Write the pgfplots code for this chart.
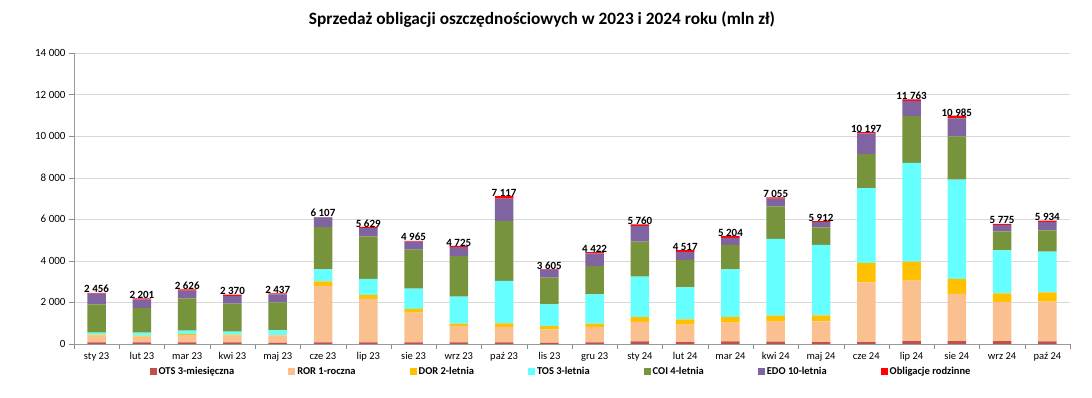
\documentclass[border=0pt]{standalone}
\usepackage{pgfplots}
\pgfplotsset{compat=1.18}
\usepackage{pgfplotstable}
\usepackage{fontspec}
\setmainfont{Carlito}
\definecolor{cOTS}{HTML}{C0504D}
\definecolor{cROR}{HTML}{FAC090}
\definecolor{cDOR}{HTML}{FFC000}
\definecolor{cTOS}{HTML}{66FFFF}
\definecolor{cCOI}{HTML}{77933C}
\definecolor{cEDO}{HTML}{8064A2}
\definecolor{cROD}{HTML}{FF0000}
\pgfplotstableread[col sep=comma]{
x,ots,ror,dor,tos,coi,edo,rod,lbl
0,80,320,50,100,1362,514,30,2 456
1,80,270,50,145,1189,417,50,2 201
2,80,353,50,160,1554,369,60,2 626
3,80,320,50,145,1346,369,60,2 370
4,60,353,30,209,1352,385,48,2 437
5,80,2712,225,578,2043,449,20,6 107
6,80,2087,193,770,2048,401,50,5 629
7,80,1428,177,979,1876,385,40,4 965
8,80,786,112,1300,1950,433,64,4 725
9,80,738,177,2038,2881,1075,128,7 117
10,60,642,160,1043,1285,385,30,3 605
11,80,738,160,1412,1358,610,64,4 422
12,128,931,241,1942,1684,754,80,5 760
13,96,835,257,1541,1323,385,80,4 517
14,128,899,273,2295,1176,337,96,5 204
15,112,963,289,3692,1566,369,64,7 055
16,96,995,289,3387,840,257,48,5 912
17,96,2873,931,3595,1643,995,64,10 197
18,144,2905,915,4751,2246,738,64,11 763
19,144,2263,722,4783,2078,867,128,10 985
20,144,1878,417,2070,913,305,48,5 775
21,128,1910,449,1958,1024,401,64,5 934
}\data
\begin{document}
\begin{tikzpicture}
\useasboundingbox (-74bp,-54bp) rectangle (1018bp,344bp);
\begin{axis}[
  at={(0,0)}, anchor=south west,
  scale only axis, width=996bp, height=291bp,
  ybar stacked, bar width=18.5bp,
  xmin=-0.5, xmax=21.5, ymin=0, ymax=14000,
  ytick={0,2000,...,14000},
  scaled y ticks=false,
  xtick={0,...,21},
  xticklabels={sty 23,lut 23,mar 23,kwi 23,maj 23,cze 23,lip 23,sie 23,wrz 23,paź 23,lis 23,gru 23,sty 24,lut 24,mar 24,kwi 24,maj 24,cze 24,lip 24,sie 24,wrz 24,paź 24},
  minor xtick={-0.5,0.5,...,21.5},
  major x tick style={draw=none},
  minor x tick style={draw=black!45},
  major y tick style={draw=black!45},
  tick align=outside,
  major tick length=5bp, minor tick length=5bp,
  axis x line*=bottom, axis y line*=left,
  axis line style={draw=black!40},
  ymajorgrids, grid style={draw=black!15},
  tick label style={font=\fontsize{11bp}{13bp}\selectfont},
  xticklabel style={font=\fontsize{10.5bp}{12bp}\selectfont},
  /pgf/number format/assume math mode=true,
  /pgf/number format/1000 sep={\ },
  legend columns=7,
  legend style={draw=none, at={(0.489,-0.096)}, anchor=center,
    font=\bfseries\fontsize{10.5bp}{12bp}\selectfont,
    /tikz/every even column/.append style={column sep=52bp}},
  legend image code/.code={\fill[#1] (0bp,-3.5bp) rectangle (7bp,3.5bp);},
]
\addplot[fill=cOTS, draw=none] table[x=x,y=ots]{\data};
\addplot[fill=cROR, draw=none] table[x=x,y=ror]{\data};
\addplot[fill=cDOR, draw=none] table[x=x,y=dor]{\data};
\addplot[fill=cTOS, draw=none] table[x=x,y=tos]{\data};
\addplot[fill=cCOI, draw=none] table[x=x,y=coi]{\data};
\addplot[fill=cEDO, draw=none] table[x=x,y=edo]{\data};
\addplot[fill=cROD, draw=none, nodes near coords, point meta=explicit symbolic,
  every node near coord/.append style={font=\bfseries\fontsize{11bp}{13bp}\selectfont, text=black, yshift=4bp}]
  table[x=x,y=rod,meta=lbl]{\data};
\legend{OTS 3-miesięczna,ROR 1-roczna,DOR 2-letnia,TOS 3-letnia,COI 4-letnia,EDO 10-letnia,Obligacje rodzinne}
\end{axis}
\node[font=\bfseries\fontsize{17.3bp}{20bp}\selectfont] at (468bp,324bp) {Sprzedaż obligacji oszczędnościowych w 2023 i 2024 roku (mln zł)};
\end{tikzpicture}
\end{document}
